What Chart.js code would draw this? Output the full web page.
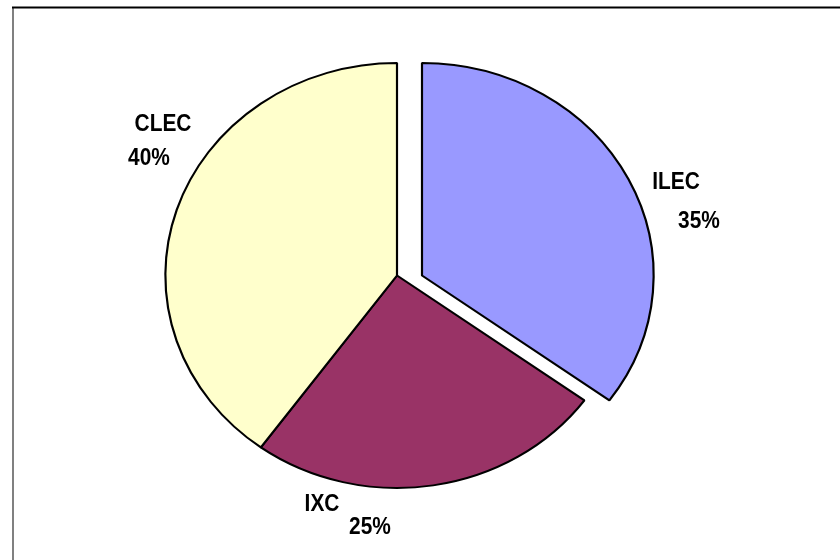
<!DOCTYPE html>
<html>
<head>
<meta charset="utf-8">
<script src="https://cdn.jsdelivr.net/npm/chart.js@4.4.0/dist/chart.umd.min.js"></script>
<style>
  html, body { margin: 0; padding: 0; background: #fff; }
  #wrap { width: 840px; height: 560px; position: relative; }
</style>
</head>
<body>
<div id="wrap"><canvas id="c" width="840" height="560"></canvas></div>
<script>
// ---- data ----
const categories = ["ILEC", "IXC", "CLEC"];
const shares = [35, 25, 40];
const percentLabels = ["35%", "25%", "40%"];
const sliceColors = ["#9999FF", "#993366", "#FFFFCC"];

// ---- layout / style constants ----
const SX = 1.09;            // horizontal stretch (pie drawn as ellipse)
const EXPLODE_X = [25, 0, 0]; // horizontal explode per slice (px)
// label placement relative to pie centre: [name dx, name dy, pct dx, pct dy]
const LABEL_POS = [
  [279, -87, 302, -48],   // ILEC
  [-75, 235, -27, 258],   // IXC
  [-234, -145, -248, -111] // CLEC
];

const framePlugin = {
  id: 'frame',
  beforeDraw(chart) {
    const ctx = chart.ctx;
    ctx.save();
    ctx.fillStyle = '#ffffff';
    ctx.fillRect(0, 0, chart.width, chart.height);
    ctx.strokeStyle = '#808080';
    ctx.lineWidth = 2;
    ctx.beginPath();
    ctx.moveTo(13, 7);
    ctx.lineTo(13, chart.height);
    ctx.stroke();
    ctx.strokeStyle = '#000000';
    ctx.beginPath();
    ctx.moveTo(12, 7.5);
    ctx.lineTo(chart.width, 7.5);
    ctx.stroke();
    ctx.restore();
  }
};

const ellipsePlugin = {
  id: 'ellipse',
  beforeDatasetsDraw(chart) {
    const meta = chart.getDatasetMeta(0);
    const el0 = meta.data[0];
    const cx = el0.x, cy = el0.y;
    meta.data.forEach((el, i) => {
      if (!el._patched) {
        const orig = el.draw;
        el.draw = function (ctx, area) {
          const dx = EXPLODE_X[i] || 0;
          ctx.save();
          ctx.translate(dx / SX, 0);
          orig.call(this, ctx, area);
          ctx.restore();
        };
        el._patched = true;
      }
    });
    const ctx = chart.ctx;
    ctx.save();
    ctx.translate(cx, cy);
    ctx.scale(SX, 1);
    ctx.translate(-cx, -cy);
  },
  afterDatasetsDraw(chart) {
    chart.ctx.restore();
  }
};

const labelPlugin = {
  id: 'sliceLabels',
  afterDraw(chart) {
    const meta = chart.getDatasetMeta(0);
    const cx = meta.data[0].x, cy = meta.data[0].y;
    const ctx = chart.ctx;
    ctx.save();
    ctx.fillStyle = '#000';
    ctx.font = 'bold 24px "Liberation Sans", Arial, sans-serif';
    ctx.textAlign = 'center';
    ctx.textBaseline = 'alphabetic';
    const draw = (t, x, y) => {
      ctx.save();
      ctx.translate(x, y);
      ctx.scale(0.87, 1);
      ctx.fillText(t, 0, 0);
      ctx.restore();
    };
    categories.forEach((name, i) => {
      const p = LABEL_POS[i];
      draw(name, cx + p[0], cy + p[1]);
      draw(percentLabels[i], cx + p[2], cy + p[3]);
    });
    ctx.restore();
  }
};

new Chart(document.getElementById('c'), {
  type: 'pie',
  data: {
    labels: categories,
    datasets: [{
      data: shares,
      backgroundColor: sliceColors,
      borderColor: '#000000',
      borderWidth: 2,
      hoverBorderWidth: 2,
      hoverOffset: 0
    }]
  },
  options: {
    responsive: true,
    maintainAspectRatio: false,
    animation: false,
    events: [],
    layout: { padding: { left: 183.5, right: 229.5, top: 62, bottom: 71 } },
    plugins: {
      legend: { display: false },
      tooltip: { enabled: false },
      title: { display: false }
    }
  },
  plugins: [framePlugin, ellipsePlugin, labelPlugin]
});
</script>
</body>
</html>
